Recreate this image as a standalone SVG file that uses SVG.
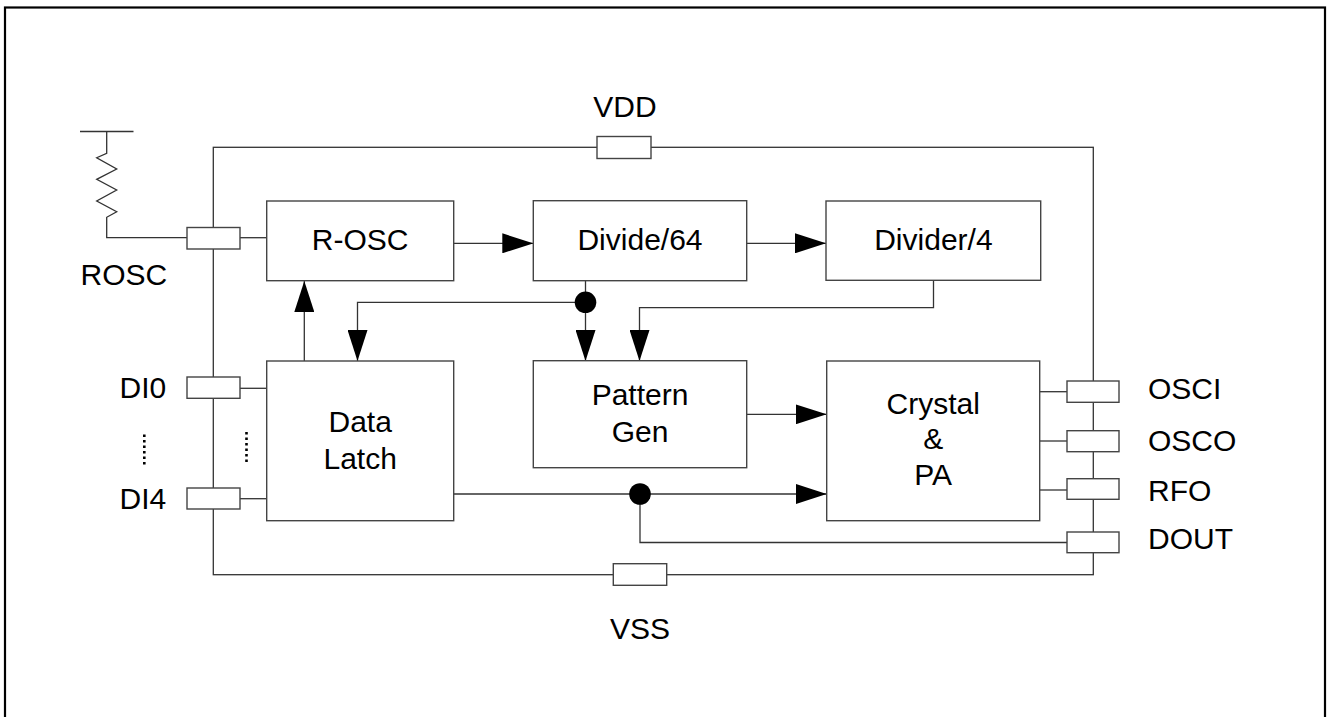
<svg xmlns="http://www.w3.org/2000/svg" width="1328" height="717" viewBox="0 0 1328 717">
<style>
.box{fill:#fff;stroke:#444;stroke-width:1.4}
.pin{fill:#fff;stroke:#444;stroke-width:1.4}
.w{fill:none;stroke:#333;stroke-width:1.3}
.wa{fill:none;stroke:#333;stroke-width:1.3;marker-end:url(#ah)}
.t{font-family:"Liberation Sans",Arial,sans-serif;font-size:30px;fill:#000}
.c{text-anchor:middle}
.dot{fill:#000}
.dots{fill:none;stroke:#000;stroke-width:2.6;stroke-dasharray:2.6 2.9}
</style>
<defs>
<marker id="ah" markerUnits="userSpaceOnUse" markerWidth="31" markerHeight="20" refX="31" refY="10" orient="auto">
<path d="M0,0 L31,10 L0,20 Z" fill="#000"/>
</marker>
</defs>
<rect x="5" y="7.5" width="1320" height="720" fill="none" stroke="#000" stroke-width="2.2"/>

<g id="connectors">
<rect class="w" x="213.3" y="147.3" width="880" height="427.4"/>
<line class="w" x1="80" y1="131.5" x2="133.5" y2="131.5" stroke="#000"/>
<polyline class="w" points="106.7,131.5 106.7,153.3 96.7,157.7 116.7,169 96.7,179.3 116.7,190 96.7,201 116.7,211.7 106.7,217.3 106.7,237.7 187,237.7"/>
<line class="w" x1="240" y1="237.7" x2="267" y2="237.7"/>
<line class="w" x1="240" y1="388.3" x2="267" y2="388.3"/>
<line class="w" x1="240" y1="498.7" x2="267" y2="498.7"/>
<line class="w" x1="1040" y1="391.7" x2="1067" y2="391.7"/>
<line class="w" x1="1040" y1="441" x2="1067" y2="441"/>
<line class="w" x1="1040" y1="490" x2="1067" y2="490"/>
<line class="wa" x1="454" y1="243.3" x2="533.3" y2="243.3"/>
<line class="wa" x1="747" y1="243.3" x2="826" y2="243.3"/>
<polyline class="wa" points="585.5,281 585.5,361"/>
<polyline class="wa" points="585.5,302.3 357.5,302.3 357.5,361"/>
<polyline class="wa" points="933.5,280.5 933.5,307.7 639.5,307.7 639.5,361"/>
<line class="wa" x1="304.3" y1="361" x2="304.3" y2="281"/>
<line class="wa" x1="747" y1="414.3" x2="826.7" y2="414.3"/>
<line class="wa" x1="454" y1="494" x2="826.7" y2="494"/>
<polyline class="w" points="640,494 640,542.5 1067,542.5"/>
<circle class="dot" cx="585.5" cy="302.3" r="10.8"/>
<circle class="dot" cx="640" cy="494" r="10.8"/>
<line class="dots" x1="144.3" y1="434.5" x2="144.3" y2="465"/>
<line class="dots" x1="246.5" y1="432" x2="246.5" y2="462.5"/>
</g>

<g id="pin-VDD"><rect class="pin" x="597" y="136.5" width="54" height="22"/><text class="t c" x="625" y="117">VDD</text></g>
<g id="pin-VSS"><rect class="pin" x="613.3" y="563.7" width="53.4" height="21.6"/><text class="t c" x="640" y="638.5">VSS</text></g>
<g id="pin-ROSC"><rect class="pin" x="187" y="227.5" width="53" height="21.5"/><text class="t" x="80.5" y="284.5">ROSC</text></g>
<g id="pin-DI0"><rect class="pin" x="187" y="377" width="53" height="21.3"/><text class="t" x="119.5" y="397.5">DI0</text></g>
<g id="pin-DI4"><rect class="pin" x="187" y="488" width="53" height="21"/><text class="t" x="119.5" y="509">DI4</text></g>
<g id="pin-OSCI"><rect class="pin" x="1067" y="381" width="52" height="21.3"/><text class="t" x="1148" y="398.5">OSCI</text></g>
<g id="pin-OSCO"><rect class="pin" x="1067" y="430.7" width="52" height="21"/><text class="t" x="1148" y="451.3">OSCO</text></g>
<g id="pin-RFO"><rect class="pin" x="1067" y="478.7" width="52" height="20.6"/><text class="t" x="1148" y="501.3">RFO</text></g>
<g id="pin-DOUT"><rect class="pin" x="1067" y="532" width="52" height="20.7"/><text class="t" x="1148" y="548.5">DOUT</text></g>

<g id="node-rosc"><rect class="box" x="266.7" y="201" width="187" height="79.7"/><text class="t c" x="360.2" y="250">R-OSC</text></g>
<g id="node-div64"><rect class="box" x="533.3" y="200.7" width="213.4" height="80"/><text class="t c" x="640" y="250">Divide/64</text></g>
<g id="node-div4"><rect class="box" x="826" y="201" width="214.7" height="79.3"/><text class="t c" x="933.4" y="250">Divider/4</text></g>
<g id="node-latch"><rect class="box" x="266.7" y="361" width="187" height="159.7"/><text class="t c" x="360.2" y="432">Data</text><text class="t c" x="360.2" y="468.5">Latch</text></g>
<g id="node-pattern"><rect class="box" x="533.3" y="360.7" width="213.4" height="107"/><text class="t c" x="640" y="405.3">Pattern</text><text class="t c" x="640" y="442">Gen</text></g>
<g id="node-crystal"><rect class="box" x="826.7" y="361" width="213" height="159.7"/><text class="t c" x="933.2" y="413.5">Crystal</text><text class="t c" x="933.2" y="448.5">&amp;</text><text class="t c" x="933.2" y="485.3">PA</text></g>
</svg>
